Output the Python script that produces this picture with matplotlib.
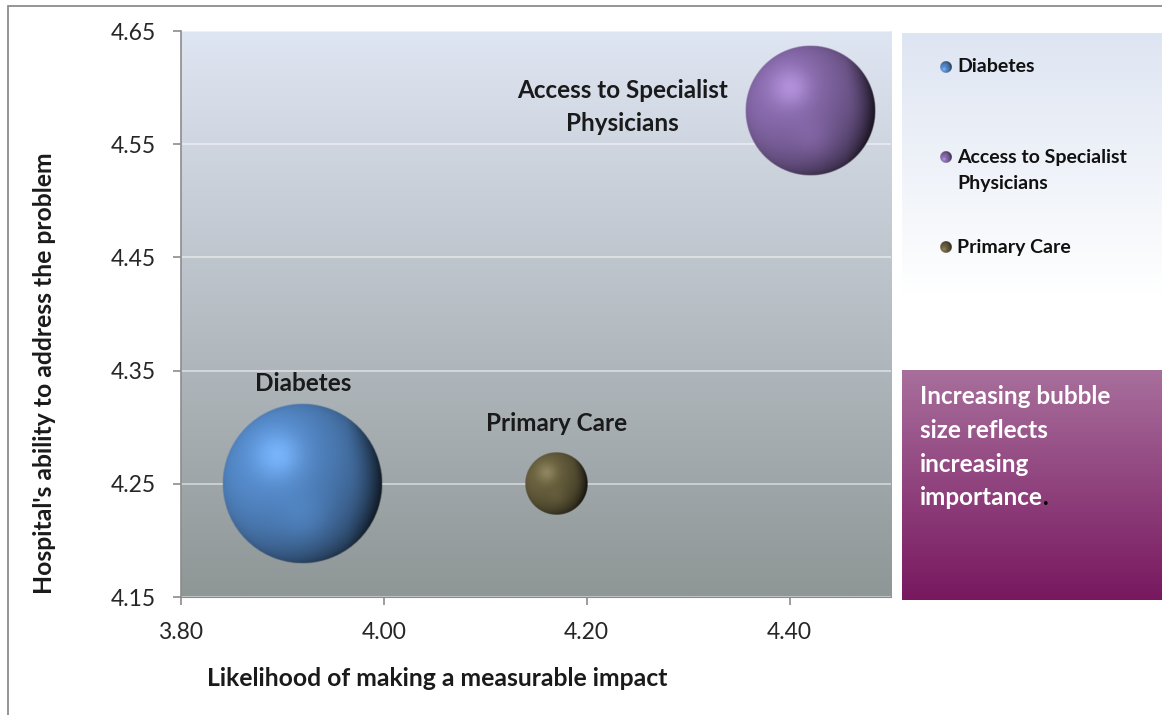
import numpy as np
import matplotlib.pyplot as plt
from matplotlib.patches import Rectangle

plt.rcParams['font.family'] = ['Lato', 'DejaVu Sans']

# Bubble data: x = likelihood of impact, y = hospital's ability, size = importance
topics = ['Diabetes', 'Access to Specialist\nPhysicians', 'Primary Care']
likelihood = [3.92, 4.42, 4.17]
ability = [4.25, 4.58, 4.25]
importance = [1.00, 0.66, 0.15]
bubble_colors = [(79, 129, 189), (128, 100, 162), (98, 90, 58)]

x_ticks = [3.80, 4.00, 4.20, 4.40]
y_ticks = [4.15, 4.25, 4.35, 4.45, 4.55, 4.65]

W, H = 1162, 715


def sphere(rgb, n=200):
    # shaded ball: soft light from the upper left, dark rim on the right
    base = np.array(rgb) / 255.0
    u, v = np.meshgrid(np.linspace(-1, 1, n), np.linspace(-1, 1, n))
    r = np.sqrt(u ** 2 + v ** 2)
    z = np.sqrt(np.clip(1 - r ** 2, 0, 1))
    L = np.array([-0.5, 0.4, 0.77])
    L = L / np.linalg.norm(L)
    ndl = u * L[0] + v * L[1] + z * L[2]
    diff = np.clip((ndl + 0.6) / 1.6, 0, 1) ** 0.8
    shade = 0.25 + 0.85 * diff
    img = base[None, None, :] * shade[..., None]
    # darker band hugging the right edge
    rim = np.clip((u - 0.55) / 0.45, 0, 1) * np.clip(r - 0.6, 0, 1) / 0.4
    img = img * (1 - 0.55 * rim[..., None])
    # soft bright spot
    spot = np.exp(-((u + 0.3) ** 2 + (v - 0.35) ** 2) / 0.09)
    img = img + 0.2 * spot[..., None] * (0.5 + 0.5 * base)[None, None, :]
    # faint reflection low in the ball
    refl = np.exp(-((u - 0.05) ** 2 + (v + 0.45) ** 2) / 0.10)
    img = img + 0.07 * refl[..., None] * base[None, None, :] * 1.5
    img = np.clip(img, 0, 1)
    alpha = np.clip((1 - r) * n / 2.5, 0, 1)
    return np.dstack([img, alpha])


def vgrad(ax, top, bottom):
    top = np.array(top) / 255.0
    bottom = np.array(bottom) / 255.0
    t = np.linspace(0, 1, 256)[:, None]
    g = top[None, :] * (1 - t) + bottom[None, :] * t
    ax.imshow(g[:, None, :], extent=[0, 1, 0, 1], transform=ax.transAxes,
              aspect='auto', zorder=0, interpolation='bilinear')


fig = plt.figure(figsize=(W / 100, H / 100), dpi=100)

# thin grey frame along the top and left
fig.add_artist(Rectangle((8 / W, -0.1), 1.2, 1 - 6 / H + 0.1, transform=fig.transFigure,
                         fill=False, edgecolor='#8c8c8c', linewidth=1.3))

ax = fig.add_axes([181 / W, 1 - 597 / H, (891 - 181) / W, (597 - 31) / H])
vgrad(ax, (223, 230, 243), (142, 150, 150))
ax.set_xlim(3.8, 4.5)
ax.set_ylim(4.15, 4.65)
ax.set_xticks(x_ticks)
ax.set_yticks(y_ticks)
ax.set_xticklabels([f'{t:.2f}' for t in x_ticks])
ax.set_yticklabels([f'{t:.2f}' for t in y_ticks])
ax.tick_params(axis='both', direction='out', length=6, width=1.2, color='#8c8c8c',
               labelsize=16.5, labelcolor='#262626')
ax.tick_params(axis='y', pad=12)
ax.tick_params(axis='x', pad=12)
ax.grid(axis='y', color='white', alpha=0.55, linewidth=1.2)
ax.set_axisbelow(True)
for s in ['top', 'right']:
    ax.spines[s].set_visible(False)
ax.spines['left'].set_color('#8c8c8c')
ax.spines['bottom'].set_color('#888c8c')
ax.spines['left'].set_linewidth(1.2)

# bubbles: area follows importance, largest radius a share of plot height
bb = ax.get_window_extent()
px_x = bb.width / (4.5 - 3.8)
px_y = bb.height / (4.65 - 4.15)
r_max = 0.142 * bb.height
for x, y, s, c in zip(likelihood, ability, importance, bubble_colors):
    r = r_max * np.sqrt(s / max(importance))
    dx, dy = r / px_x, r / px_y
    ax.imshow(sphere(c), extent=[x - dx, x + dx, y - dy, y + dy], origin='lower',
              aspect='auto', zorder=3, interpolation='bilinear')

# bubble labels
lab = dict(ha='center', va='center', fontsize=17.5, fontweight='bold', color='#1a1a1a', zorder=4)
ax.text(likelihood[0], 4.339, topics[0], **lab)
ax.text(4.235, 4.583, topics[1], multialignment='center', linespacing=1.55, **lab)
ax.text(likelihood[2], 4.303, topics[2], **lab)
ax.set_xlim(3.8, 4.5)
ax.set_ylim(4.15, 4.65)

fig.text(437 / W, 1 - 678 / H, 'Likelihood of making a measurable impact',
         ha='center', va='center', fontsize=17.8, fontweight='bold', color='#1a1a1a')
fig.text(45 / W, 1 - 373 / H, "Hospital's ability to address the problem",
         ha='center', va='center', rotation=90, fontsize=17.8, fontweight='bold', color='#1a1a1a')

# legend panel
lg = fig.add_axes([902 / W, 1 - 295 / H, (W - 902) / W, (295 - 33) / H])
vgrad(lg, (222, 229, 242), (255, 255, 255))
lg.axis('off')
legend_rows = [34, 124, 214]
for name, c, row in zip(topics, bubble_colors, legend_rows):
    lg.imshow(sphere(c, 60), extent=[38, 50, row + 6, row - 6], aspect='auto',
              zorder=3, interpolation='bilinear')
    for k, line in enumerate(name.split('\n')):
        lg.text(55, row + 26 * k, line, ha='left', va='center', fontsize=14,
                fontweight='bold', color='#111111', zorder=4)
lg.set_xlim(0, W - 902)
lg.set_ylim(295 - 33, 0)

# note box
nb = fig.add_axes([902 / W, 1 - 600 / H, (W - 902) / W, (600 - 370) / H])
vgrad(nb, (168, 111, 156), (120, 24, 95))
nb.axis('off')
note_lines = ['Increasing bubble', 'size reflects', 'increasing', 'importance']
last = None
for i, line in enumerate(note_lines):
    last = fig.text(920 / W, 1 - (397 + 33.5 * i) / H, line, ha='left', va='center',
                    fontsize=17.5, fontweight='bold', color='white')
nb.annotate('.', xy=(1, 0), xycoords=last, xytext=(0, 0), textcoords='offset points',
            ha='left', va='bottom', fontsize=17.5, fontweight='bold', color='black')

fig.savefig('out.png', dpi=100)
